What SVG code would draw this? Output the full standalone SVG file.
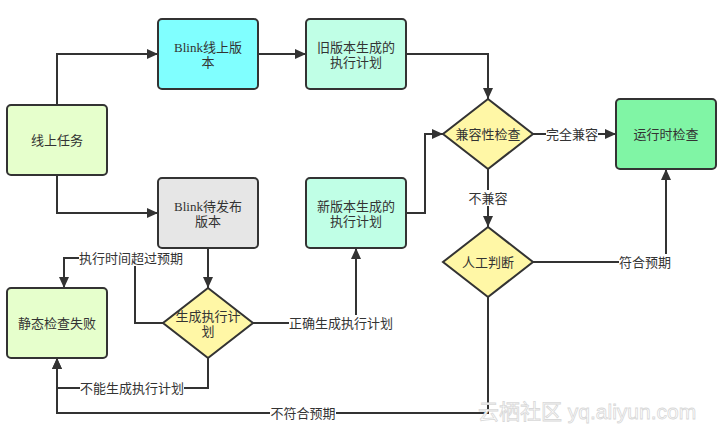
<svg xmlns="http://www.w3.org/2000/svg" width="723" height="433" viewBox="0 0 723 433">
<defs>
<style>
.n{stroke:#333;stroke-width:2}
.t{font-family:"Liberation Serif","Noto Sans CJK SC",serif;font-size:13px;fill:#333;text-anchor:middle}
.c{fill:none;stroke:#333;stroke-width:2}
.lb{fill:#fff}
.wm{font-family:"Liberation Sans","Noto Sans CJK SC",sans-serif;font-size:21px;fill:#fff;stroke:#d8d8d8;stroke-width:0.8;text-anchor:start}
</style>
<marker id="a" markerUnits="userSpaceOnUse" markerWidth="12" markerHeight="10" refX="11" refY="5" orient="auto">
<path d="M0,0 L11,5 L0,10 z" fill="#333"/>
</marker>
</defs>
<rect width="723" height="433" fill="#fff"/>
<g id="connectors">
<path class="c" d="M57,105 V54 H158" marker-end="url(#a)"/>
<path class="c" d="M57,175 V213 H158" marker-end="url(#a)"/>
<path class="c" d="M258,54 H306" marker-end="url(#a)"/>
<path class="c" d="M406,54 H488 V99" marker-end="url(#a)"/>
<path class="c" d="M406,213 H425 V134 H443" marker-end="url(#a)"/>
<path class="c" d="M532,134 H616" marker-end="url(#a)"/>
<path class="c" d="M488,168 V227" marker-end="url(#a)"/>
<path class="c" d="M532,262 H666 V169" marker-end="url(#a)"/>
<path class="c" d="M488,297 V413 H57 V358" marker-end="url(#a)"/>
<path class="c" d="M208,248 V288" marker-end="url(#a)"/>
<path class="c" d="M252,323 H356 V248" marker-end="url(#a)"/>
<path class="c" d="M163,323 H135 V258 H64 V288" marker-end="url(#a)"/>
<path class="c" d="M208,358 V388 H57 V358" marker-end="url(#a)"/>
<rect class="lb" x="546" y="126" width="52" height="16"/>
<text class="t" x="572" y="138.5">完全兼容</text>
<rect class="lb" x="468" y="190" width="40" height="16"/>
<text class="t" x="488" y="202.5">不兼容</text>
<rect class="lb" x="619" y="254" width="52" height="16"/>
<text class="t" x="645" y="266.5">符合预期</text>
<rect class="lb" x="270" y="405" width="66" height="16"/>
<text class="t" x="303" y="417.5">不符合预期</text>
<rect class="lb" x="289" y="315" width="104" height="16"/>
<text class="t" x="341" y="327.5">正确生成执行计划</text>
<rect class="lb" x="79" y="250" width="104" height="16"/>
<text class="t" x="131" y="262.5">执行时间超过预期</text>
<rect class="lb" x="80" y="380" width="104" height="16"/>
<text class="t" x="132" y="392.5">不能生成执行计划</text>
</g>
<g id="online-task">
<rect class="n" x="7" y="105" width="100" height="70" rx="4" fill="#e6ffcc"/>
<text class="t" x="57" y="144.5">线上任务</text>
</g>
<g id="blink-online">
<rect class="n" x="158" y="19" width="100" height="70" rx="4" fill="#80ffff"/>
<text class="t" x="208" y="51.5">Blink线上版</text>
<text class="t" x="208" y="67">本</text>
</g>
<g id="old-plan">
<rect class="n" x="306" y="19" width="100" height="70" rx="4" fill="#c0ffe6"/>
<text class="t" x="356" y="51.5">旧版本生成的</text>
<text class="t" x="356" y="67">执行计划</text>
</g>
<g id="blink-pending">
<rect class="n" x="158" y="178" width="100" height="70" rx="4" fill="#e6e6e6"/>
<text class="t" x="208" y="210.5">Blink待发布</text>
<text class="t" x="208" y="226">版本</text>
</g>
<g id="new-plan">
<rect class="n" x="306" y="178" width="100" height="70" rx="4" fill="#c0ffe6"/>
<text class="t" x="356" y="210.5">新版本生成的</text>
<text class="t" x="356" y="226">执行计划</text>
</g>
<g id="static-fail">
<rect class="n" x="7" y="288" width="100" height="70" rx="4" fill="#e6ffcc"/>
<text class="t" x="57" y="327.5">静态检查失败</text>
</g>
<g id="gen-plan">
<path class="n" d="M208,288 L253,323 L208,358 L163,323 z" fill="#fff7a6"/>
<text class="t" x="208" y="320.5">生成执行计</text>
<text class="t" x="208" y="336">划</text>
</g>
<g id="compat-check">
<path class="n" d="M488,99 L533,134 L488,169 L443,134 z" fill="#fff7a6"/>
<text class="t" x="488" y="138.5">兼容性检查</text>
</g>
<g id="manual-judge">
<path class="n" d="M488,227 L533,262 L488,297 L443,262 z" fill="#fff7a6"/>
<text class="t" x="488" y="266.5">人工判断</text>
</g>
<g id="runtime-check">
<rect class="n" x="616" y="99" width="100" height="70" rx="4" fill="#80f5a5"/>
<text class="t" x="666" y="138.5">运行时检查</text>
</g>
<text class="wm" x="478" y="419">云栖社区 yq.aliyun.com</text>
</svg>
